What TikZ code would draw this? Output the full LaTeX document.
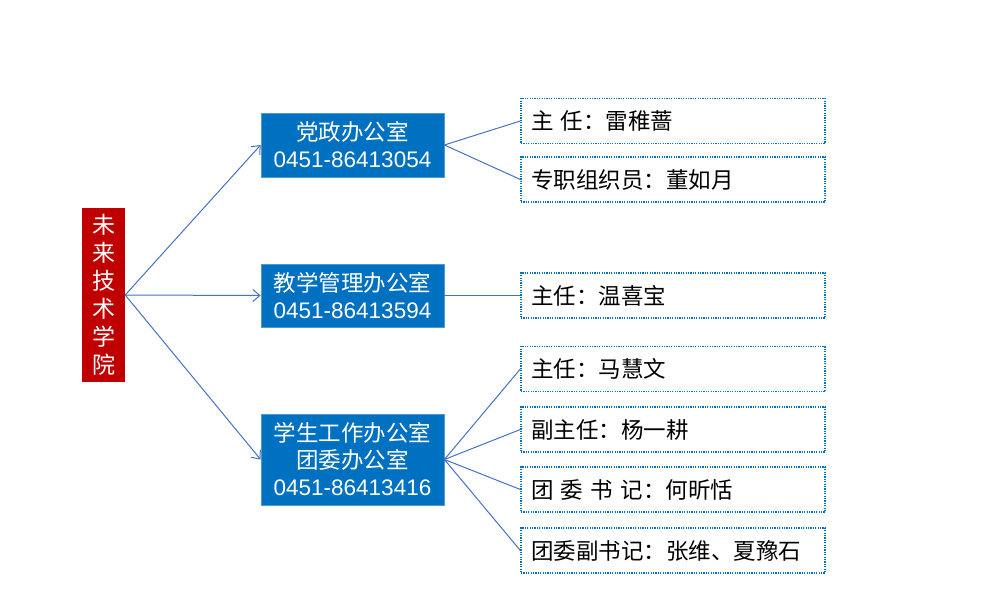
\documentclass[tikz,border=0pt]{standalone}
\usepackage{fontspec}
\setmainfont{Liberation Sans}
\newfontfamily\cjk{Noto Sans CJK SC}
\usetikzlibrary{arrows.meta}
\definecolor{offblue}{HTML}{0070C0}
\definecolor{rootred}{HTML}{C00000}
\definecolor{linkblue}{HTML}{4472C4}
\tikzset{
  rootbox/.style={fill=rootred, text=white, minimum width=43, minimum height=174, inner sep=0pt,
    align=center, font=\cjk\fontsize{23}{28}\selectfont},
  officebox/.style={fill=offblue, draw=offblue!70!white, line width=0.8pt, text=white, minimum width=183, inner sep=0pt,
    align=center, font=\fontsize{22.5}{27}\selectfont},
  leafbox/.style={draw=offblue, line width=1.3pt, dash pattern=on 1.2pt off 1.2pt, minimum width=304, minimum height=45,
    inner sep=0pt, text width=284, align=left, font=\cjk\fontsize{22.5}{26}\selectfont},
  arrowlink/.style={draw=linkblue, line width=1pt, -{Straight Barb[length=7pt,width=12pt,line width=1pt]}},
  plainlink/.style={draw=linkblue, line width=1pt},
}
\begin{document}
\begin{tikzpicture}[x=1pt,y=-1pt]
\useasboundingbox (0,0) rectangle (999,612);
\node[rootbox] (root) at (103.5,295) {未\\来\\技\\术\\学\\院};
\node[officebox, minimum height=64] (o1) at (352.5,145) {{\cjk 党政办公室}\\0451-86413054};
\node[officebox, minimum height=63] (o2) at (352.5,295.5) {{\cjk 教学管理办公室}\\0451-86413594};
\node[officebox, minimum height=91] (o3) at (352.5,459.5) {{\cjk 学生工作办公室}\\{\cjk 团委办公室}\\0451-86413416};
\node[leafbox] (l1) at (673,121) {主 任：雷稚蔷};
\node[leafbox] (l2) at (673,179.5) {专职组织员：董如月};
\node[leafbox] (l3) at (673,295.5) {主任：温喜宝};
\node[leafbox] (l4) at (673,369) {主任：马慧文};
\node[leafbox] (l5) at (673,429.5) {副主任：杨一耕};
\node[leafbox] (l6) at (673,489.5) {团 委 书 记：何昕恬};
\node[leafbox] (l7) at (673,550.5) {团委副书记：张维、夏豫石};
\draw[arrowlink] (root.east) -- (o1.west);
\draw[arrowlink] (root.east) -- (o2.west);
\draw[arrowlink] (root.east) -- (o3.west);
\draw[plainlink] (o1.east) -- (l1.west);
\draw[plainlink] (o1.east) -- (l2.west);
\draw[plainlink] (o2.east) -- (l3.west);
\draw[plainlink] (o3.east) -- (l4.west);
\draw[plainlink] (o3.east) -- (l5.west);
\draw[plainlink] (o3.east) -- (l6.west);
\draw[plainlink] (o3.east) -- (l7.west);
\end{tikzpicture}
\end{document}
